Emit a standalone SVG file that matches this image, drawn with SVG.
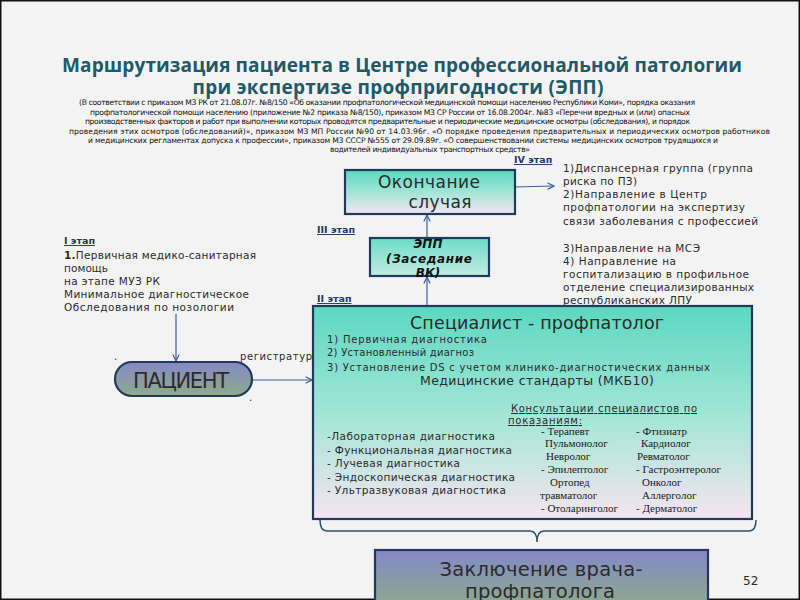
<svg xmlns="http://www.w3.org/2000/svg" width="800" height="600" viewBox="0 0 800 600">
<defs>
<linearGradient id="teal" x1="0" y1="0" x2="0" y2="1">
<stop offset="0" stop-color="#5cd8c0"/>
<stop offset="0.55" stop-color="#a8e6d9"/>
<stop offset="1" stop-color="#f6e4f0"/>
</linearGradient>
<linearGradient id="teal2" x1="0" y1="0" x2="0" y2="1">
<stop offset="0" stop-color="#6cdcc8"/>
<stop offset="1" stop-color="#c4ece2"/>
</linearGradient>
<linearGradient id="slate" x1="0" y1="0" x2="0" y2="1">
<stop offset="0" stop-color="#8488c8"/>
<stop offset="1" stop-color="#8fab88"/>
</linearGradient>
<marker id="arr" viewBox="0 0 10 10" refX="9" refY="5" markerWidth="8" markerHeight="8" orient="auto" markerUnits="userSpaceOnUse">
<path d="M1,1 L9,5 L1,9" fill="none" stroke="#3a5f9a" stroke-width="1.5"/>
</marker>
<style>
.t{font-family:"DejaVu Sans",Verdana,sans-serif;fill:#2b2b2b}
.s{font-family:"DejaVu Sans",sans-serif;font-size:7.6px;fill:#111}
.st{font-family:"DejaVu Sans",sans-serif;font-size:9.5px;font-weight:bold;fill:#1f3864;text-decoration:underline}
.sr{font-family:"Liberation Serif","Times New Roman",serif;font-size:11px;fill:#1a1a1a}
.box{stroke:#1f3a5c;stroke-width:2.2}
.ln{stroke:#3a5f9a;stroke-width:1.2;fill:none}
</style>
</defs>
<rect x="0" y="0" width="800" height="600" fill="#f3f3f3"/>
<rect x="0.5" y="0.5" width="799" height="599" fill="none" stroke="#111" stroke-width="2"/>

<g id="title">
<text x="402" y="72" text-anchor="middle" font-family="'Open Sans',sans-serif" font-weight="bold" font-size="19" fill="#215968" textLength="680">Маршрутизация пациента в Центре профессиональной патологии</text>
<text x="398" y="94" text-anchor="middle" font-family="'Open Sans',sans-serif" font-weight="bold" font-size="19" fill="#215968" textLength="411">при экспертизе профпригодности (ЭПП)</text>
</g>
<g id="subtitle">
<text class="s" x="79" y="105" textLength="616">(В соответствии с приказом МЗ РК   от 21.08.07г. №8/150 «Об оказании профпатологической  медицинской помощи населению Республики Коми»,  порядка оказания</text>
<text class="s" x="90" y="115" textLength="600">профпатологической помощи населению (приложение №2 приказа №8/150),  приказом МЗ СР России от 16.08.2004г. №83 «Перечни вредных и (или) опасных</text>
<text class="s" x="85" y="124" textLength="605">производственных факторов и работ при выполнении которых проводятся предварительные и периодические медицинские осмотры (обследования), и порядок</text>
<text class="s" x="69" y="134" textLength="701">проведения этих осмотров (обследований)», приказом МЗ МП России №90 от 14.03.96г. «О порядке проведения предварительных и периодических осмотров работников</text>
<text class="s" x="88" y="143" textLength="630">и медицинских регламентах допуска к профессии»,  приказом  МЗ СССР №555 от 29.09.89г. «О совершенствовании системы медицинских осмотров трудящихся и</text>
<text class="s" x="330" y="152" textLength="200">водителей индивидуальных транспортных средств»</text>
</g>

<g id="connectors">
<line class="ln" x1="515" y1="187" x2="554" y2="186" marker-end="url(#arr)"/>
<line class="ln" x1="427" y1="238" x2="427" y2="215" marker-end="url(#arr)"/>
<line class="ln" x1="427" y1="305" x2="427" y2="277" marker-end="url(#arr)"/>
<line class="ln" x1="176" y1="314" x2="176" y2="361" marker-end="url(#arr)"/>
<line class="ln" x1="253" y1="380" x2="312" y2="380" marker-end="url(#arr)"/>
<path d="M320,520 Q320,531 327,531 L530,531 Q537,531 537,542 Q537,531 544,531 L749,531 Q756,531 756,520" fill="none" stroke="#2f4f6f" stroke-width="1.5"/>
</g>

<g id="stage4">
<text class="st" x="514" y="163">IV этап</text>
<g class="t" font-size="10.5">
<text x="563" y="172" textLength="190">1)Диспансерная группа (группа</text>
<text x="563" y="185" textLength="74">риска по ПЗ)</text>
<text x="563" y="198" textLength="144">2)Направление в Центр</text>
<text x="563" y="211" textLength="182">профпатологии на экспертизу</text>
<text x="563" y="225" textLength="195">связи заболевания с профессией</text>
<text x="563" y="252" textLength="137">3)Направление на МСЭ</text>
<text x="563" y="265" textLength="113">4) Направление на</text>
<text x="563" y="278" textLength="186">госпитализацию в профильное</text>
<text x="563" y="291" textLength="191">отделение специализированных</text>
<text x="563" y="304" textLength="129">республиканских ЛПУ</text>
</g>
</g>

<g id="node-end">
<rect class="box" x="345" y="170" width="170" height="44" fill="url(#teal)"/>
<text class="t" x="429" y="188" text-anchor="middle" font-size="17" fill="#111" textLength="102">Окончание</text>
<text class="t" x="440" y="208" text-anchor="middle" font-size="17" fill="#111" textLength="63">случая</text>
</g>

<g id="stage3">
<text class="st" x="317" y="233">III этап</text>
</g>
<g id="node-epp">
<rect class="box" x="370" y="238" width="119" height="38" fill="url(#teal2)"/>
<g font-family="'DejaVu Sans',sans-serif" font-weight="bold" font-style="italic" font-size="12" fill="#111" text-anchor="middle">
<text x="428" y="248">ЭПП</text>
<text x="429" y="263" textLength="86">(Заседание</text>
<text x="428" y="277">ВК)</text>
</g>
</g>

<g id="stage1">
<text class="st" x="64" y="244">I этап</text>
<g class="t" font-size="10.5">
<text x="64" y="259" textLength="192"><tspan font-weight="bold">1.</tspan>Первичная медико-санитарная</text>
<text x="64" y="272" textLength="44">помощь</text>
<text x="64" y="285" textLength="96">на этапе МУЗ РК</text>
<text x="64" y="298" textLength="185">Минимальное диагностическое</text>
<text x="64" y="311" textLength="170">Обследования  по нозологии</text>
</g>
</g>

<g id="stage2">
<text class="st" x="317" y="302">II этап</text>
<text class="t" x="240" y="360" font-size="10" textLength="72">регистратур</text>
<text class="t" x="114" y="360" font-size="10" fill="#111">.</text>
<text class="t" x="249" y="401" font-size="10" fill="#111">.</text>
</g>

<g id="node-patient">
<rect class="box" x="115" y="362" width="137" height="34" rx="17" ry="17" fill="url(#slate)" stroke-width="2.5"/>
<text class="t" x="181" y="388" text-anchor="middle" font-size="21" fill="#111" textLength="96">ПАЦИЕНТ</text>
</g>

<g id="node-specialist">
<rect class="box" x="313" y="306" width="439" height="213" fill="url(#teal)" stroke-width="2.5"/>
<text class="t" x="537" y="329" text-anchor="middle" font-size="17.5" fill="#111" textLength="254">Специалист - профпатолог</text>
<g class="t" font-size="10" fill="#222">
<text x="327" y="343" textLength="160">1) Первичная  диагностика</text>
<text x="327" y="356" textLength="147">2) Установленный диагноз</text>
<text x="327" y="371" textLength="383">3) Установление  DS с учетом клинико-диагностических  данных</text>
</g>
<text class="t" x="537" y="385" text-anchor="middle" font-size="12.5" fill="#222" textLength="234">Медицинские стандарты (МКБ10)</text>
<g class="t" font-size="10" fill="#222" text-decoration="underline">
<text x="511" y="412" textLength="186">Консультации специалистов по</text>
<text x="508" y="424" textLength="74">показаниям:</text>
</g>
<g class="t" font-size="10.5" fill="#222">
<text x="327" y="440" textLength="168">-Лабораторная диагностика</text>
<text x="327" y="454" textLength="185">- Функциональная диагностика</text>
<text x="327" y="467" textLength="133">- Лучевая диагностика</text>
<text x="327" y="481" textLength="188">- Эндоскопическая диагностика</text>
<text x="327" y="494" textLength="179">- Ультразвуковая диагностика</text>
</g>
<g class="sr">
<text x="541" y="435">- Терапевт</text>
<text x="545" y="447">Пульмонолог</text>
<text x="546" y="460">Невролог</text>
<text x="541" y="473">- Эпилептолог</text>
<text x="550" y="486">Ортопед</text>
<text x="540" y="499">травматолог</text>
<text x="541" y="512">- Отоларинголог</text>
<text x="636" y="435">- Фтизиатр</text>
<text x="641" y="447">Кардиолог</text>
<text x="637" y="460">Ревматолог</text>
<text x="636" y="473">- Гастроэнтеролог</text>
<text x="642" y="486">Онколог</text>
<text x="642" y="499">Аллерголог</text>
<text x="636" y="512">- Дерматолог</text>
</g>
</g>

<g id="node-conclusion">
<rect class="box" x="375" y="550" width="333" height="60" fill="url(#slate)" stroke-width="2.5"/>
<text class="t" x="541" y="576" text-anchor="middle" font-size="19.5" fill="#111" textLength="203">Заключение врача-</text>
<text class="t" x="540" y="598" text-anchor="middle" font-size="19.5" fill="#111" textLength="150">профпатолога</text>
</g>

<text class="t" x="743" y="585" font-size="12" fill="#666">52</text>
</svg>
